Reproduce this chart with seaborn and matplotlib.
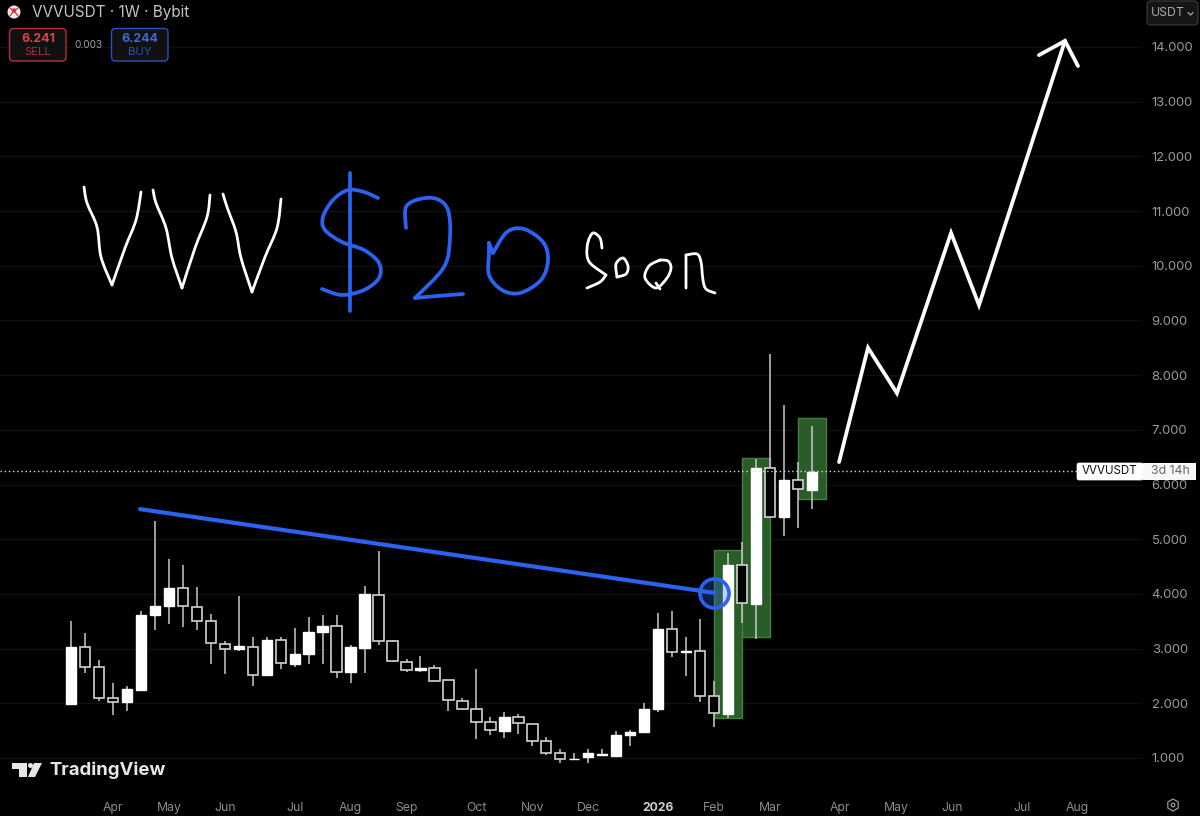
import matplotlib
matplotlib.use("Agg")
import matplotlib.pyplot as plt
import numpy as np
import seaborn as sns
from matplotlib.lines import Line2D
from matplotlib.patches import Circle, FancyBboxPatch, PathPatch, Polygon, Rectangle, RegularPolygon
from matplotlib.path import Path
from matplotlib.transforms import Affine2D

# ---- weekly candles (54 weeks) -------------------------------------------
week_high = [3.50, 3.29, 2.79, 2.38, 2.31, 3.68, 5.33, 4.64, 4.53, 4.13, 3.64, 3.14, 3.97, 3.22, 3.21, 3.22, 3.37, 3.58,
             3.62, 3.61, 3.07, 4.14, 4.78, 3.16, 2.81, 2.87, 2.70, 2.42, 2.09, 2.63, 1.75, 1.84, 1.80, 1.63, 1.38, 1.16,
             1.09, 1.17, 1.17, 1.49, 1.51, 2.01, 3.65, 3.69, 3.21, 3.54, 2.40, 4.75, 4.95, 6.47, 8.39, 7.46, 6.41, 7.07]
body_top = [3.03, 3.03, 2.67, 2.10, 2.26, 3.62, 3.78, 4.11, 4.11, 3.76, 3.50, 3.09, 3.04, 3.03, 3.16, 3.16, 2.90, 3.31,
            3.42, 3.41, 3.03, 3.99, 3.98, 3.13, 2.76, 2.64, 2.64, 2.42, 2.05, 1.90, 1.65, 1.75, 1.75, 1.63, 1.31, 1.10,
            0.99, 1.09, 1.08, 1.42, 1.48, 1.89, 3.36, 3.36, 2.96, 2.96, 2.13, 4.52, 4.52, 6.30, 6.30, 6.09, 6.09, 6.23]
body_bottom = [1.99, 2.67, 2.10, 2.02, 2.02, 2.25, 3.61, 3.78, 3.77, 3.50, 3.10, 2.99, 2.99, 2.51, 2.51, 2.73, 2.72, 2.90,
               3.30, 2.57, 2.57, 3.02, 3.14, 2.77, 2.61, 2.61, 2.41, 2.06, 1.90, 1.66, 1.51, 1.50, 1.64, 1.31, 1.10, 0.98,
               0.98, 1.01, 1.05, 1.04, 1.42, 1.48, 1.90, 2.94, 2.94, 2.13, 1.82, 1.80, 3.83, 3.82, 5.41, 5.41, 5.91, 5.90]
week_low = [1.99, 2.56, 2.05, 1.79, 1.86, 2.25, 3.34, 3.45, 3.39, 3.34, 2.71, 2.54, 2.95, 2.32, 2.51, 2.62, 2.67, 2.72,
            2.71, 2.46, 2.37, 2.56, 3.06, 2.76, 2.57, 2.57, 2.39, 1.86, 1.87, 1.34, 1.42, 1.37, 1.43, 1.22, 1.06, 0.91,
            0.97, 0.91, 1.04, 1.03, 1.22, 1.48, 1.84, 2.84, 2.50, 2.02, 1.56, 1.74, 3.46, 3.18, 5.41, 5.05, 5.20, 5.55]
hollow = [0, 1, 1, 1, 0, 0, 0, 0, 1, 1, 1, 1, 0, 1, 0, 1, 0, 0,
          0, 1, 0, 0, 1, 1, 1, 0, 1, 1, 1, 1, 1, 0, 1, 1, 1, 1,
          0, 0, 0, 0, 0, 0, 0, 1, 0, 1, 1, 0, 1, 0, 1, 0, 1, 0]

price_ticks = list(range(1, 15))
month_weeks = [3, 7, 11, 16, 20, 24, 29, 33, 37, 42, 46, 50, 55, 59, 63, 68, 72]
month_labels = ["Apr", "May", "Jun", "Jul", "Aug", "Sep", "Oct", "Nov", "Dec", "2026",
                "Feb", "Mar", "Apr", "May", "Jun", "Jul", "Aug"]
last_price = 6.241

# green highlight boxes: first week, last week, low, high
box_week_start = [46, 48, 52]
box_week_end = [48, 50, 54]
box_low = [1.73, 3.21, 5.74]
box_high = [4.80, 6.48, 7.22]

# drawn forecast and trend lines (week, price)
arrow_weeks = [54.94, 57.01, 59.08, 62.95, 64.95, 71.10]
arrow_prices = [6.41, 8.50, 7.67, 10.60, 9.28, 14.11]
head_weeks = [69.24, 71.10, 72.03]
head_prices = [13.85, 14.11, 13.65]
trend_weeks = [4.94, 46.0]
trend_prices = [5.55, 4.02]

ink_white = [
    [(84, 187), (87, 203), (97, 227), (101, 257), (112, 285)],
    [(112, 285), (125, 248), (136, 220), (141, 192)],
    [(153, 190), (156, 203), (166, 228), (172, 258), (182, 288)],
    [(182, 288), (195, 248), (207, 217), (210, 195)],
    [(223, 194), (227, 207), (236, 232), (241, 258), (252, 292)],
    [(252, 292), (265, 257), (277, 228), (281, 199)],
    [(602, 248), (600, 238), (593, 233), (588, 242), (587, 255), (591, 264), (606, 275)],
    [(606, 275), (600, 282), (587, 288)],
    [(617, 277), (616, 264), (623, 258), (628, 266), (626, 274), (617, 277)],
    [(660, 260), (649, 266), (645, 278), (656, 288), (667, 278), (671, 268), (668, 261), (660, 260)],
    [(656, 283), (660, 289)],
    [(686, 288), (686, 255)],
    [(686, 255), (697, 254), (701, 262), (703, 280), (706, 289), (715, 293)],
]
ink_blue = [
    [(378, 198), (364, 192), (348, 190), (333, 200), (323, 217), (325, 230), (342, 242), (364, 250), (379, 263),
     (379, 278), (364, 290), (342, 295), (322, 289)],
    [(350, 173), (350, 311)],
    [(406, 228), (406, 207), (420, 199), (437, 199), (448, 210), (450, 237), (444, 267), (415, 298)],
    [(415, 298), (437, 296), (463, 294)],
    [(489, 243), (493, 253)],
    [(493, 253), (507, 232), (524, 229), (543, 242), (548, 260), (541, 280), (520, 293), (502, 290),
     (489, 275), (489, 253), (489, 243)],
]

# ---- layout ----------------------------------------------------------------
sns.set_theme(style="dark", rc={"figure.facecolor": "black", "axes.facecolor": "black", "savefig.facecolor": "black"})
plt.rcParams["font.family"] = ["Inter", "DejaVu Sans"]

BG = "#000000"
WHITE = "#ffffff"
BLUE = "#2b62f0"
fig = plt.figure(figsize=(12, 8.16), dpi=100)
ax = fig.add_axes([0, 1 - 790 / 816, 1142 / 1200, 790 / 816])
px = Affine2D().scale(1, -1).translate(0, 816)

weeks = np.arange(len(week_high))
top = np.array(body_top)
bottom = np.array(body_bottom)
is_hollow = np.array(hollow, dtype=bool)

for start, end, lo, hi in zip(box_week_start, box_week_end, box_low, box_high):
    ax.add_patch(Rectangle((start, lo), end - start, hi - lo, facecolor="#2a5c29", edgecolor="#3f8040", lw=1.0, zorder=2))

ax.vlines(weeks, week_low, week_high, color="#c9c9c9", lw=1.1, zorder=3)
sns.barplot(x=weeks[is_hollow], y=(top - bottom)[is_hollow], bottom=bottom[is_hollow], native_scale=True,
            errorbar=None, width=0.74, color="black", saturation=1, edgecolor="#d2d2d2", linewidth=1.2, ax=ax, zorder=4)
sns.barplot(x=weeks[~is_hollow], y=(top - bottom)[~is_hollow], bottom=bottom[~is_hollow], native_scale=True,
            errorbar=None, width=0.74, color="white", saturation=1, edgecolor="white", linewidth=1.0, ax=ax, zorder=4)

# trend line + circle
sns.lineplot(x=trend_weeks, y=trend_prices, color=BLUE, lw=3.0, ax=ax, zorder=6, sort=False, errorbar=None,
             solid_capstyle="round")
ax.scatter([trend_weeks[-1]], [trend_prices[-1]], s=440, facecolor=(0.17, 0.38, 0.94, 0.30), edgecolor=BLUE, lw=2.6, zorder=6)

# forecast arrow
ax.plot(arrow_weeks, arrow_prices, color=WHITE, lw=2.7, zorder=7, solid_capstyle="round", solid_joinstyle="miter")
ax.plot(head_weeks, head_prices, color=WHITE, lw=2.7, zorder=7, solid_capstyle="round", solid_joinstyle="miter")

# last price
ax.axhline(last_price, color="#d8d8d8", lw=1.0, ls=(0, (1, 2)), zorder=5)

# axes
ax.set_xlim(-71 / 13.98, (1142 - 71) / 13.98)
ax.set_ylim(1 + (758 - 790) / 54.7, 1 + 758 / 54.7)
ax.set_yticks(price_ticks)
ax.set_yticklabels([f"{p}.000" for p in price_ticks])
ax.yaxis.tick_right()
ax.set_xticks(month_weeks)
ax.set_xticklabels(month_labels)
ax.set_xlabel("")
ax.set_ylabel("")
ax.tick_params(axis="y", length=0, pad=7, labelcolor="#9b9b9b", labelsize=9.4)
ax.tick_params(axis="x", length=0, pad=8.6, labelcolor="#8d8d8d", labelsize=8.8)
for lab, text in zip(ax.get_xticklabels(), month_labels):
    if text == "2026":
        lab.set_fontweight("bold")
        lab.set_color("#cfcfcf")
ax.grid(axis="y", color="#101010", lw=1.0, zorder=0)
ax.grid(axis="x", visible=False)
ax.set_axisbelow(True)
for s in ax.spines.values():
    s.set_visible(False)


def stroke(points, color, lw):
    pts = np.array(points, float)
    verts = [pts[0]]
    codes = [Path.MOVETO]
    n = len(pts)
    for i in range(n - 1):
        before = pts[max(i - 1, 0)]
        after = pts[min(i + 2, n - 1)]
        verts += [pts[i] + (pts[i + 1] - before) / 6, pts[i + 1] - (after - pts[i]) / 6, pts[i + 1]]
        codes += [Path.CURVE4] * 3
    fig.add_artist(PathPatch(Path(verts, codes), fc="none", ec=color, lw=lw, capstyle="round", joinstyle="round",
                             transform=px, zorder=8))


for s_ in ink_white:
    stroke(s_, WHITE, 2.0)
for s_ in ink_blue:
    stroke(s_, BLUE, 2.7)


def box(x0, y0, x1, y1, fc, ec, r=4, lw=1.0, z=9):
    fig.add_artist(FancyBboxPatch((x0 + r, y0 + r), x1 - x0 - 2 * r, y1 - y0 - 2 * r, boxstyle=f"round,pad={r},rounding_size={r}",
                                  fc=fc, ec=ec, lw=lw, transform=px, zorder=z))


def label(x, y, s, color, size, ha="center", weight="normal"):
    fig.text(x, y, s, color=color, fontsize=size, ha=ha, va="center", fontweight=weight, transform=px, zorder=10)


# header
fig.add_artist(Circle((14, 12), 6.5, fc="#f0e8e8", ec="none", transform=px, zorder=9))
fig.add_artist(Circle((14, 10.5), 2.2, fc="#c8383c", ec="none", transform=px, zorder=10))
for x0, y0, x1, y1 in [(10, 8, 12.5, 10), (18, 8, 15.5, 10), (10, 16, 13, 12), (18, 16, 15, 12)]:
    fig.add_artist(Line2D([x0, x1], [y0, y1], color="#c8383c", lw=0.9, transform=px, zorder=10))
label(32, 12.5, "VVVUSDT · 1W · Bybit", "#c4c4c4", 11.0, ha="left")
box(9.5, 28.5, 66, 61, "#111111", "#b5303a")
label(38, 38.5, "6.241", "#d8434b", 9.0, weight="bold")
label(38, 52, "SELL", "#a8303a", 8.2)
label(88, 45, "0.003", "#a0a0a0", 7.2)
box(111.5, 28.5, 168, 61, "#111111", "#2a52bd")
label(140, 38.5, "6.244", "#3b68da", 9.0, weight="bold")
label(140, 52, "BUY", "#2a52bd", 8.2)
box(1147, 1, 1198, 25, "#161616", "#333333")
label(1150.5, 13.5, "USDT", "#a8a8a8", 8.8, ha="left")
fig.add_artist(Line2D([1188, 1190.5, 1193], [12.5, 15, 12.5], color="#a8a8a8", lw=0.9, transform=px, zorder=10))

# last price tag
fig.add_artist(Rectangle((1143, 463), 53, 17, fc="#f7f7f7", ec="none", transform=px, zorder=9))
box(1077, 463, 1143, 480, "#ffffff", "#ffffff", r=2, lw=0.5)
label(1110, 471.5, "VVVUSDT", "#111111", 8.3)
label(1170, 471.5, "3d 14h", "#666666", 8.8)

# TradingView logo
logo_t = [(12, 763), (27, 763), (27, 777), (19, 777), (19, 769), (12, 769)]
logo_slash = [(34, 763), (42, 763), (35, 777), (28, 777)]
fig.add_artist(Polygon(logo_t, fc="#e6e6e6", ec="none", transform=px, zorder=9))
fig.add_artist(Polygon(logo_slash, fc="#e6e6e6", ec="none", transform=px, zorder=9))
fig.add_artist(Circle((30.5, 765.5), 2.5, fc="#e6e6e6", ec="none", transform=px, zorder=9))
label(49.5, 770, "TradingView", "#e6e6e6", 13.4, ha="left", weight="bold")

# settings glyph
fig.add_artist(RegularPolygon((1173, 805), 6, radius=6, fc="none", ec="#9a9a9a", lw=0.9, transform=px, zorder=9))
fig.add_artist(Circle((1173, 805), 1.8, fc="none", ec="#9a9a9a", lw=0.9, transform=px, zorder=9))

fig.savefig("out.png", dpi=100, facecolor=BG)
